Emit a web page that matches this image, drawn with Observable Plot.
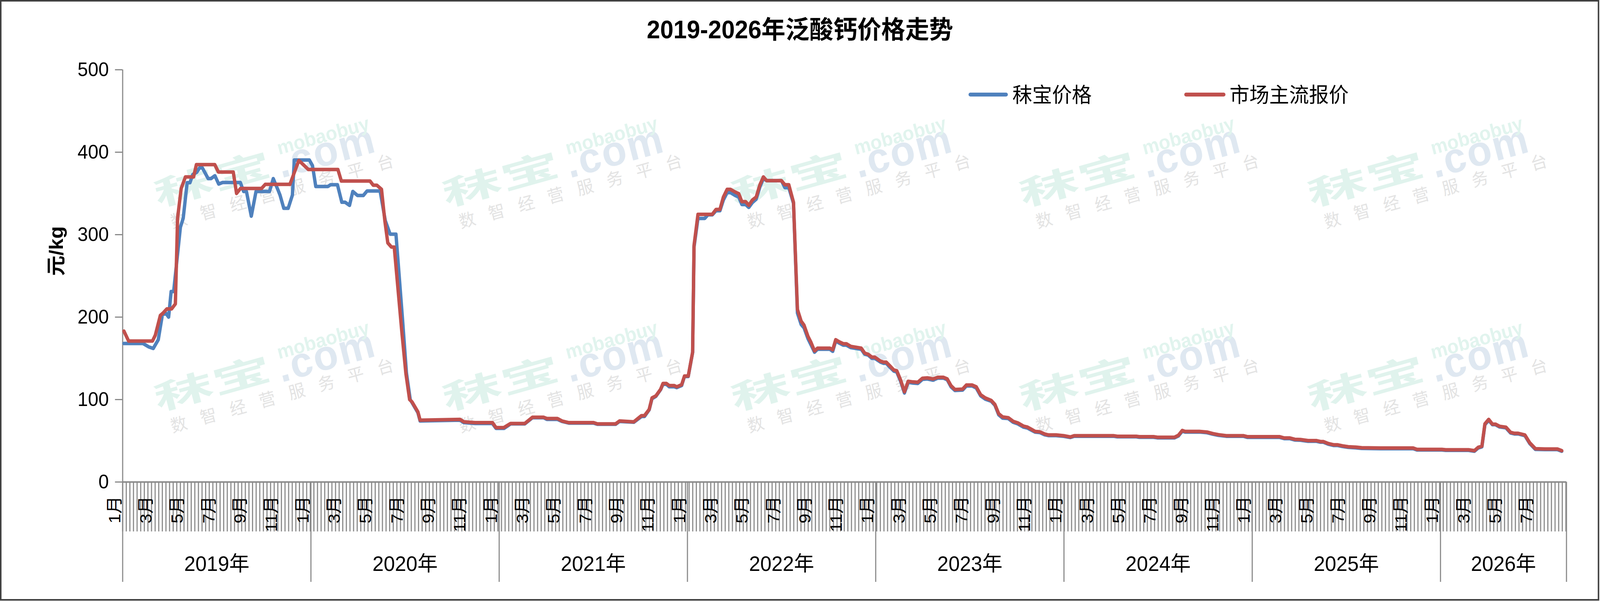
<!DOCTYPE html>
<html><head><meta charset="utf-8">
<script src="https://cdn.jsdelivr.net/npm/d3@7"></script>
<script src="https://cdn.jsdelivr.net/npm/@observablehq/plot@0.6"></script>
<style>
html,body{margin:0;padding:0;background:#fff;overflow:hidden;}
#chart{width:100vw;height:1538px;overflow:hidden;}
#chart svg{display:block;width:100vw;height:1538px;max-width:none;}
</style></head><body><div id="chart"></div>
<script>
// x = months since Jan 2019 (category axis, weekly), y = 元/kg
const red2019 = [[0.08,183],[0.38,171],[1.9,171],[2.08,178],[2.4,202],[2.58,205],[2.82,210],[3.12,210],[3.36,216],[3.5,320],[3.73,356],[4.0,370],[4.52,370],[4.7,385],[5.87,385],[6.1,376],[7.05,376],[7.26,350],[7.51,356],[8.85,356],[9.09,361],[10.66,361],[11.23,390],[11.84,379]];
const red2020 = [[13.72,379],[13.94,365],[15.77,365],[15.97,360],[16.2,360],[16.5,355],[16.71,317],[16.9,290],[17.13,285],[17.31,285],[17.8,181],[18.05,132],[18.29,100],[18.45,97],[18.82,85],[18.96,75],[21.5,76],[21.75,73],[22.47,72],[23.57,72]];
const red2021 = [[23.8,66],[24.3,66],[24.73,71],[25.63,71],[26.12,78.5],[26.84,78.5],[27.04,77],[27.71,77],[28.0,74],[28.44,72],[30.02,72],[30.26,70.5],[31.42,70.5],[31.67,74],[32.58,73],[33.07,80.5],[33.26,80.5],[33.56,88],[33.74,102],[33.99,104.5],[34.29,112.5],[34.44,119.5],[34.66,119.5],[34.84,117],[35.15,117],[35.32,115.5],[35.63,118],[35.81,128.5]];
const red2022 = [[36.05,128.5],[36.33,157.5],[36.42,287],[36.67,324.6],[37.58,324.6],[37.82,330.6],[38.07,330.6],[38.29,345.6],[38.53,355],[38.74,355],[39.05,351.6],[39.27,349.7],[39.47,340],[39.71,340],[39.91,335.5],[40.14,342],[40.38,345.6],[40.62,360.6],[40.84,370],[41.05,365.5],[41.99,365.5],[42.21,360.6],[42.46,360.6],[42.76,339.3],[43.01,209.4],[43.25,195],[43.43,190.3],[43.68,176.7],[43.86,170],[44.1,159],[44.29,162.3],[45.08,162.3],[45.26,160.4],[45.45,172.6],[45.68,170],[45.93,167.7],[46.13,167.7],[46.41,164.5],[47.08,162.3],[47.3,156.3]];
const red2023 = [[47.51,155],[47.76,151.4],[47.94,151.4],[48.3,146.7],[48.49,145.4],[48.67,145.4],[48.92,140.5],[49.16,135.8],[49.34,135],[49.59,123.6],[49.83,109.4],[50.07,122.2],[50.37,121.4],[50.68,121],[50.98,125.8],[51.29,126.3],[51.65,125],[51.96,127],[52.32,127],[52.56,125],[52.8,116.8],[53.05,112.2],[53.54,112.7],[53.78,117.6],[54.15,117.6],[54.41,115.4],[54.69,105.8],[54.99,101.9],[55.36,99],[55.6,94],[55.84,82.8],[56.09,78.9],[56.45,78],[56.76,73.6],[57.06,71.7],[57.43,67.7],[57.67,66.6],[57.91,64.1],[58.16,61.4],[58.46,60.9],[58.77,58.2],[59.01,57.1],[59.5,57.1],[59.98,56.2]];
const red2024 = [[60.41,54.6],[60.65,56.2],[63.15,56.2],[63.4,55.5],[64.61,55.5],[64.8,55],[65.71,55],[65.95,54.3],[67.05,54.3],[67.29,56.6],[67.54,62.5],[67.72,61.4],[68.63,61.4],[69.12,60.6],[69.49,58.7],[69.85,57.4],[70.34,56.2],[71.43,56.2],[71.68,55],[73.73,55]];
const red2025 = [[74.04,53.4],[74.4,53.4],[74.71,51.8],[75.07,51.5],[75.56,50.2],[76.1,50.2],[76.35,49.1],[76.53,49.1],[76.84,46.7],[77.2,45.1],[77.45,45.1],[77.75,43.9],[78.12,42.8],[78.6,42.3],[78.97,41.6],[80.19,41.2],[82.26,41.2],[82.5,39.6],[84.09,39.6]];
const red2026 = [[84.33,39.1],[85.79,39.1],[86.16,38],[86.4,42],[86.64,43.5],[86.83,70.5],[87.07,76],[87.31,70.2],[87.5,70.2],[87.76,67.6],[88.17,66.5],[88.47,60.2],[88.71,59.1],[88.95,59.1],[89.38,57],[89.69,47.5],[90.05,40.4],[90.66,40.1],[91.45,40.1],[91.73,38]];

const blue2019 = [[0.08,168],[1.3,168],[1.65,164],[1.95,162],[2.27,172.6],[2.53,202.6],[2.75,204.8],[2.93,200],[3.09,231],[3.25,231],[3.68,309],[3.86,320],[4.11,363],[4.29,363],[4.47,373],[4.72,375.6],[4.9,381],[5.08,381],[5.45,368],[5.63,368],[5.88,371.5],[6.12,361.4],[6.37,363.3],[7.5,363.3],[7.71,352.4],[7.89,352.4],[8.2,322.4],[8.5,352.4],[9.36,352.4],[9.6,368],[9.91,353.8],[10.03,348],[10.27,332],[10.55,332],[10.82,348],[10.94,390.5],[11.9,390.5]];
const blue2020 = [[12.1,383.7],[12.31,358.4],[13.08,358.4],[13.26,360.6],[13.69,360.6],[13.97,339.3],[14.18,339.3],[14.46,335.5],[14.67,352.4],[14.97,347.5],[15.34,347.5],[15.58,353],[16.41,353],[16.74,317],[17.05,300.6],[17.42,300.6],[17.84,197],[18.09,132],[18.33,100],[18.82,84],[18.96,74],[21.5,75],[21.75,72],[22.47,71],[23.57,71]];
const blue2021 = [[23.8,65],[24.3,65],[24.73,70.5],[25.63,70.5],[26.12,78],[26.84,78],[27.04,76],[27.71,76],[28.0,73.5],[28.44,71.5],[30.02,71.5],[30.26,70],[31.42,70],[31.67,73.5],[32.58,72.5],[33.07,79.5],[33.26,79.5],[33.56,87.5],[33.74,101],[33.99,104],[34.29,112],[34.44,118.5],[34.66,118.5],[34.84,115.5],[35.15,115.5],[35.32,114.5],[35.63,117],[35.81,128]];
const blue2022 = [[36.05,128],[36.33,157],[36.42,285],[36.67,319.7],[37.1,319.7],[37.3,324],[37.58,324],[37.82,329],[38.07,329],[38.29,342],[38.53,351],[38.74,351],[39.05,347.5],[39.27,345.6],[39.47,336.5],[39.71,336.5],[39.91,333],[40.14,339],[40.38,343],[40.62,358],[40.84,368],[41.05,365.5],[41.99,365.5],[42.21,357],[42.46,357],[42.76,338],[43.01,205],[43.25,191],[43.43,187],[43.68,174],[43.86,167],[44.1,157.5],[44.29,161],[45.08,161],[45.26,158.5],[45.45,171],[45.68,168.5],[45.93,166],[46.13,166],[46.41,163],[47.08,161],[47.3,155]];
const blue2023 = [[47.51,154],[47.76,150],[47.94,150],[48.3,145.5],[48.49,144],[48.67,144],[48.92,139],[49.16,134.5],[49.34,133.5],[49.59,122],[49.83,108],[50.07,121],[50.37,120],[50.68,119.5],[50.98,124.5],[51.29,125],[51.65,123.5],[51.96,126],[52.32,126],[52.56,124],[52.8,115.5],[53.05,111],[53.54,111.5],[53.78,116.5],[54.15,116.5],[54.41,114],[54.69,104.5],[54.99,100.5],[55.36,98],[55.6,93],[55.84,81.5],[56.09,77.5],[56.45,77],[56.76,72.5],[57.06,70.5],[57.43,66.5],[57.67,65.5],[57.91,63],[58.16,60.5],[58.46,60],[58.77,57.3],[59.01,56.3],[59.5,56.3],[59.98,55.4]];
const blue2024 = [[60.41,54],[60.65,55.5],[63.15,55.5],[63.4,54.8],[64.61,54.8],[64.8,54.3],[65.71,54.3],[65.95,53.6],[67.05,53.6],[67.29,55.8],[67.54,61.7],[67.72,60.6],[68.63,60.6],[69.12,59.8],[69.49,58],[69.85,56.6],[70.34,55.5],[71.43,55.5],[71.68,54.2],[73.73,54.2]];
const blue2025 = [[74.04,52.6],[74.4,52.6],[74.71,51],[75.07,50.7],[75.56,49.4],[76.1,49.4],[76.35,48.3],[76.53,48.3],[76.84,45.9],[77.2,44.3],[77.45,44.3],[77.75,43.1],[78.12,42],[78.6,41.5],[78.97,40.8],[80.19,40.4],[82.26,40.4],[82.5,38.9],[84.09,38.9]];
const blue2026 = [[84.33,38.4],[85.79,38.4],[86.16,37.3],[86.4,41.2],[86.64,42.7],[86.83,69.5],[87.07,75],[87.31,69.5],[87.5,69.5],[87.76,66.8],[88.17,65.7],[88.47,59.4],[88.71,58.3],[88.95,58.3],[89.38,56.2],[89.69,46.7],[90.05,39.6],[90.66,39.3],[91.45,39.3],[91.73,37.3]];

const seriesNames = ["秣宝价格", "市场主流报价"];
const seriesColors = ["#4F81BD", "#C0504D"];
const yearLabels = ["2019年","2020年","2021年","2022年","2023年","2024年","2025年","2026年"];
const monthNames = ["1月","3月","5月","7月","9月","11月"];
const yTicks = [0, 100, 200, 300, 400, 500];
const axisEnd = 92.03;          // last category edge (early Sep 2026)
const weeksPerYear = 52.1786;
const title = "2019-2026年泛酸钙价格走势";
const yLabel = "元/kg";
const wmCols = [5.75, 24.13, 42.52, 60.9, 79.28];
const wmRows = [366.4, 118.7];

const blueSeries = [...blue2019, ...blue2020, ...blue2021, ...blue2022, ...blue2023, ...blue2024, ...blue2025, ...blue2026];
const redSeries = [...red2019, ...red2020, ...red2021, ...red2022, ...red2023, ...red2024, ...red2025, ...red2026];

const weekTicks = d3.range(0, 401).map(k => k * 12 / weeksPerYear).filter(m => m <= axisEnd + 1e-6);
const yearEdges = [...yearLabels.map((_, i) => 12 * i), axisEnd];
const yearCenters = yearLabels.map((label, i) => ({label, m: (12 * i + Math.min(12 * i + 12, axisEnd)) / 2}));
const monthTicks = [];
yearLabels.forEach((_, i) => monthNames.forEach((label, j) => {
  const m = 12 * i + 2 * j;
  if (m < axisEnd - 1) monthTicks.push({m, label});
}));

const FONT = '"Liberation Sans","Noto Sans CJK SC",Arial,sans-serif';
const GRAY = "#8a8a8a";

const plot = Plot.plot({
  width: 4272, height: 1538,
  marginTop: 178, marginBottom: 305, marginLeft: 327, marginRight: 90,
  style: {fontFamily: FONT, background: "white", color: "black"},
  x: {domain: [0, axisEnd], label: null},
  y: {domain: [0, 500], label: null},
  marks: [
    Plot.axisX(weekTicks, {tickSize: 127, tickFormat: () => "", stroke: GRAY, strokeWidth: 3, label: null}),
    Plot.axisX(yearEdges, {tickSize: 256, tickFormat: () => "", stroke: GRAY, strokeWidth: 3, label: null}),
    Plot.axisY(yTicks, {tickSize: 20, tickPadding: 17, fontSize: 50, stroke: GRAY, strokeWidth: 3, fill: "black", tickFormat: d => String(d), label: null}),
    Plot.ruleX([0], {stroke: GRAY, strokeWidth: 3}),
    Plot.ruleY([0], {stroke: GRAY, strokeWidth: 4}),
    Plot.text(monthTicks, {x: "m", text: "label", frameAnchor: "bottom", dy: 36, dx: -21, rotate: -90, textAnchor: "end", lineAnchor: "middle", fontSize: 45, fill: "black"}),
    Plot.text(yearCenters, {x: "m", text: "label", frameAnchor: "bottom", dy: 210, lineAnchor: "middle", fontSize: 54, fill: "black"}),
    Plot.text([yLabel], {text: d => d, frameAnchor: "left", dx: -176, rotate: -90, lineAnchor: "middle", fontSize: 52, fontWeight: "bold", fill: "black"}),
    Plot.line(blueSeries, {x: d => d[0], y: d => d[1], stroke: seriesColors[0], strokeWidth: 9, strokeLinejoin: "round", strokeLinecap: "round"}),
    Plot.line(redSeries, {x: d => d[0], y: d => d[1], stroke: seriesColors[1], strokeWidth: 9, strokeLinejoin: "round", strokeLinecap: "round"})
  ]
});

// the viewport is narrower than the 4272px reference: stretch the 4272x1538 drawing to fill it
plot.setAttribute("viewBox", "0 0 4272 1538");
plot.setAttribute("preserveAspectRatio", "none");

const svg = d3.select(plot);
const xs = plot.scale("x"), ys = plot.scale("y");

// watermark (behind marks)
const wm = svg.insert("g", "g").attr("pointer-events", "none");
wmCols.forEach(c => wmRows.forEach(r => {
  const g = wm.append("g").attr("transform", `translate(${xs.apply(c)},${ys.apply(r)}) rotate(-15)`);
  g.append("text").text("秣宝").attr("text-anchor", "middle").attr("dominant-baseline", "central")
    .attr("transform", "scale(1.9,1)").style("font-family", FONT).style("font-size", "84px").style("font-weight", "bold").attr("fill", "#e0f3ed");
  g.append("text").text(".com").attr("x", 312).attr("y", 44).attr("text-anchor", "middle")
    .style("font-family", FONT).style("font-size", "108px").style("font-weight", "bold").style("letter-spacing", "4px").attr("fill", "#dfe8f1");
  g.append("text").text("mobaobuy").attr("x", 314).attr("y", -33).attr("text-anchor", "middle").attr("dominant-baseline", "central")
    .style("font-family", FONT).style("font-size", "50px").style("font-weight", "bold").attr("fill", "#e1f4ee");
  g.append("text").text("数智经营服务平台").attr("x", 171 + 19).attr("y", 77).attr("text-anchor", "middle").attr("dominant-baseline", "central")
    .style("font-family", FONT).style("font-size", "44px").style("letter-spacing", "37.5px").attr("fill", "#e3e3e3");
}));

// title
svg.append("text").text(title).attr("x", 2136).attr("y", 98).attr("text-anchor", "middle")
  .style("font-family", FONT).style("font-size", "64px").style("font-weight", "bold").attr("fill", "black");

// legend
const legendItems = [{x1: 2591, x2: 2686, tx: 2703}, {x1: 3167, x2: 3267, tx: 3283}];
legendItems.forEach((it, i) => {
  svg.append("line").attr("x1", it.x1).attr("x2", it.x2).attr("y1", 242).attr("y2", 242)
    .attr("stroke", seriesColors[i]).attr("stroke-width", 10).attr("stroke-linecap", "round");
  svg.append("text").text(seriesNames[i]).attr("x", it.tx).attr("y", 262).attr("text-anchor", "start")
    .style("font-family", FONT).style("font-size", "53px").attr("fill", "black");
});

// outer border
svg.append("rect").attr("x", 2).attr("y", 2).attr("width", 4266).attr("height", 1533)
  .attr("fill", "none").attr("stroke", "#404040").attr("stroke-width", 4);

document.getElementById("chart").appendChild(plot);
</script></body></html>
